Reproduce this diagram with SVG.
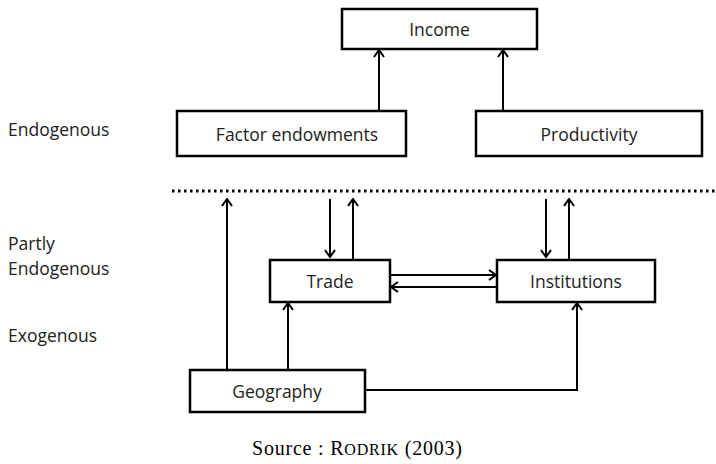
<svg xmlns="http://www.w3.org/2000/svg" width="716" height="464" viewBox="0 0 716 464">
<style>
.box{fill:#fff;stroke:#000;stroke-width:2.5}
.t{font-family:"Open Sans","Noto Sans",sans-serif;font-size:17.5px;fill:#222;text-anchor:middle;dominant-baseline:central}
.l{font-family:"Open Sans","Noto Sans",sans-serif;font-size:17.5px;fill:#222}
.c{fill:none;stroke:#000;stroke-width:2}
</style>
<defs>
<marker id="a" viewBox="0 0 12 12" refX="11" refY="6" markerWidth="12" markerHeight="12" markerUnits="userSpaceOnUse" orient="auto">
<path d="M4,1 L11,6 L4,11" fill="none" stroke="#000" stroke-width="2"/>
</marker>
</defs>
<text class="l" x="8" y="136">Endogenous</text>
<text class="l" x="8" y="250">Partly</text>
<text class="l" x="8" y="275">Endogenous</text>
<text class="l" x="8" y="342">Exogenous</text>
<line x1="172" y1="191" x2="716" y2="191" stroke="#000" stroke-width="3" stroke-dasharray="2.5 3.5"/>
<g id="connectors">
<path class="c" d="M379,111 V50" marker-end="url(#a)"/>
<path class="c" d="M503,111 V50" marker-end="url(#a)"/>
<path class="c" d="M227,370 V199" marker-end="url(#a)"/>
<path class="c" d="M330,199 V257" marker-end="url(#a)"/>
<path class="c" d="M353,259 V199" marker-end="url(#a)"/>
<path class="c" d="M546,199 V257" marker-end="url(#a)"/>
<path class="c" d="M569,259 V199" marker-end="url(#a)"/>
<path class="c" d="M391,275 H496" marker-end="url(#a)"/>
<path class="c" d="M496,287 H391" marker-end="url(#a)"/>
<path class="c" d="M288,370 V303" marker-end="url(#a)"/>
<path class="c" d="M366,390 H577 V303" marker-end="url(#a)"/>
</g>
<g id="income"><rect class="box" x="342" y="9" width="195" height="40"/><text class="t" x="439.5" y="29">Income</text></g>
<g id="factor"><rect class="box" x="177" y="111" width="229" height="45"/><text class="t" x="297" y="133.5">Factor endowments</text></g>
<g id="productivity"><rect class="box" x="476" y="111" width="226" height="45"/><text class="t" x="589" y="133.5">Productivity</text></g>
<g id="trade"><rect class="box" x="270" y="260" width="120" height="42"/><text class="t" x="330" y="281">Trade</text></g>
<g id="institutions"><rect class="box" x="497" y="260" width="158" height="42"/><text class="t" x="576" y="281">Institutions</text></g>
<g id="geography"><rect class="box" x="190" y="370" width="175" height="42"/><text class="t" x="277" y="391">Geography</text></g>
<text x="252" y="455" font-family="'Liberation Serif',serif" font-size="20" fill="#000" textLength="210" lengthAdjust="spacing">Source : R<tspan font-size="16">ODRIK</tspan> (2003)</text>
</svg>
